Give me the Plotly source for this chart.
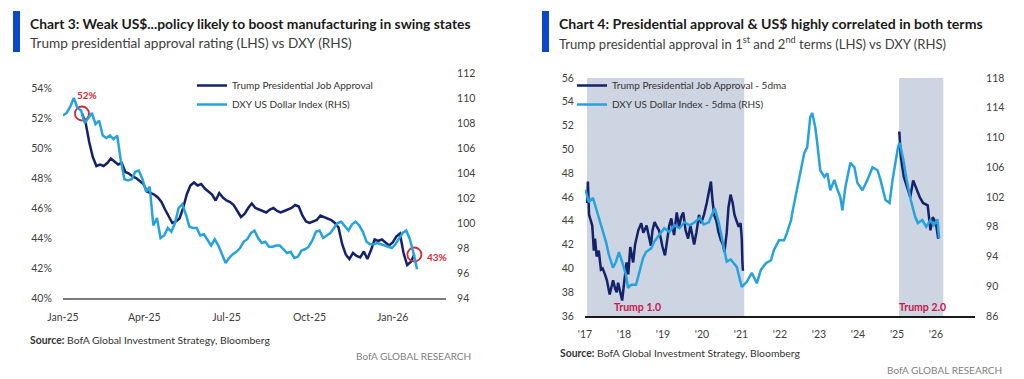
import plotly.graph_objects as go
import pandas as pd

# ---------------- Chart 3 data (2025-26), values read every 4 days ----------------
c3_appr_start = "2025-01-22"
c3_approval = [52.3, 51.7, 50.4, 49.4, 48.8, 48.9, 48.8, 49.0, 49.3, 49.1, 48.9, 49.0, 48.4, 48.3,
               48.1, 48.0, 47.8, 47.6, 47.1, 47.0, 46.9, 46.7, 46.4, 45.9, 45.4, 45.0, 45.1, 45.3,
               46.0, 46.9, 47.5, 47.7, 47.5, 47.6, 47.3, 47.1, 46.9, 46.5, 47.0, 46.7, 46.5, 46.4,
               46.2, 45.8, 45.4, 45.6, 46.0, 46.3, 46.0, 45.9, 45.8, 45.7, 45.9, 46.0, 45.8, 45.7,
               45.8, 45.9, 46.0, 46.2, 46.1, 45.5, 45.1, 45.0, 45.1, 45.2, 45.5, 45.4, 45.3, 45.2,
               45.0, 44.7, 43.6, 42.9, 42.6, 43.0, 42.8, 42.7, 43.1, 42.6, 43.2, 43.9, 43.8, 43.9,
               43.7, 43.5, 43.7, 44.1, 44.3, 43.0, 42.2, 42.4, 42.9]
c3_dxy_start = "2025-01-01"
c3_dxy = [108.6, 108.8, 109.3, 110.0, 109.2, 109.0, 108.0, 108.4, 108.8, 107.9, 108.2, 107.0, 106.8,
          107.0, 106.7, 107.0, 105.0, 103.5, 103.4, 103.5, 104.1, 104.2, 103.5, 102.5, 102.9, 99.8,
          100.4, 98.8, 99.0, 99.6, 99.3, 100.0, 101.2, 101.5, 100.7, 99.7, 99.6, 99.6, 99.0, 99.1,
          98.6, 98.2, 98.7, 98.2, 97.5, 96.8, 97.2, 97.5, 97.7, 98.0, 98.5, 98.7, 99.2, 99.4, 98.8,
          98.4, 98.5, 98.1, 98.1, 98.2, 98.2, 97.9, 97.6, 97.7, 97.2, 97.3, 97.8, 97.9, 98.1, 98.6,
          99.3, 99.4, 98.8, 99.0, 99.2, 99.6, 100.0, 100.1, 99.7, 99.4, 99.9, 100.1, 99.8, 99.3,
          98.5, 98.3, 98.3, 98.4, 98.3, 98.2, 98.1, 98.0, 98.3, 98.7, 99.2, 99.4, 98.7, 97.6, 96.3]
c3_step = "4D"
c3_xticks = ["2025-01-01", "2025-04-01", "2025-07-01", "2025-10-01", "2026-01-01"]
c3_xticklabels = ["Jan-25", "Apr-25", "Jul-25", "Oct-25", "Jan-26"]
c3_left_ticks = [40, 42, 44, 46, 48, 50, 52, 54]
c3_right_ticks = [94, 96, 98, 100, 102, 104, 106, 108, 110, 112]

# ---------------- Chart 4 data (2017-26) ----------------
c4_appr1_dates = ["2017-01-22", "2017-01-28", "2017-02-08", "2017-02-25", "2017-03-10", "2017-03-25",
                  "2017-04-05", "2017-04-20", "2017-05-10", "2017-05-30", "2017-06-15", "2017-07-07",
                  "2017-07-25", "2017-08-20", "2017-09-05", "2017-09-21", "2017-10-10", "2017-10-25",
                  "2017-11-07", "2017-11-25", "2017-12-15", "2018-01-05", "2018-01-25", "2018-02-10",
                  "2018-03-01", "2018-03-28", "2018-04-15", "2018-05-15", "2018-06-12", "2018-07-01",
                  "2018-08-01", "2018-08-15", "2018-09-10", "2018-09-25", "2018-10-15", "2018-11-05",
                  "2018-11-25", "2018-12-10", "2018-12-28", "2019-01-20", "2019-02-10", "2019-03-01",
                  "2019-03-20", "2019-04-15", "2019-05-10", "2019-06-01", "2019-06-20", "2019-07-10",
                  "2019-08-01", "2019-08-25", "2019-09-15", "2019-10-20", "2019-11-10", "2019-12-05",
                  "2019-12-25", "2020-01-20", "2020-02-15", "2020-03-05", "2020-03-25", "2020-04-10",
                  "2020-04-25", "2020-05-15", "2020-06-05", "2020-06-25", "2020-07-15", "2020-07-30",
                  "2020-08-20", "2020-09-05", "2020-09-25", "2020-10-15", "2020-11-01", "2020-11-20",
                  "2020-12-10", "2020-12-28", "2021-01-08", "2021-01-14", "2021-01-19"]
c4_appr1 = [45.5, 47.3, 44.5, 44.0, 43.6, 41.5, 42.5, 41.0, 41.5, 39.9, 40.0, 39.5,
            39.0, 37.8, 38.5, 39.0, 38.3, 38.0, 38.8, 38.0, 37.3, 39.0, 40.5, 39.5,
            41.8, 40.5, 42.0, 43.2, 43.8, 43.0, 43.6, 43.0, 41.9, 43.2, 43.9, 43.5,
            43.2, 42.6, 41.8, 41.1, 42.6, 43.6, 44.2, 42.8, 44.7, 43.5, 44.3, 44.7,
            43.2, 42.5, 43.6, 42.0, 43.0, 44.5, 43.8, 44.5, 45.5, 46.4, 47.3, 45.6,
            44.5, 44.0, 43.0, 42.4, 42.0, 41.4, 43.0, 45.1, 46.2, 45.5, 44.5, 44.0,
            43.5, 43.8, 42.5, 40.5, 39.8]
c4_appr2_dates = ["2025-01-22", "2025-02-05", "2025-03-05", "2025-04-10", "2025-05-05", "2025-06-01",
                  "2025-07-05", "2025-08-01", "2025-09-01", "2025-10-15", "2025-11-10", "2025-12-01",
                  "2025-12-20", "2026-01-05", "2026-01-20", "2026-02-01"]
c4_appr2 = [51.5, 49.4, 47.7, 46.8, 46.0, 47.4, 46.6, 46.0, 45.5, 45.3, 43.2, 44.3,
            44.0, 43.5, 42.6, 42.6]
c4_dxy_dates = ["2017-01-05", "2017-02-06", "2017-03-16", "2017-04-13", "2017-05-11", "2017-06-18",
                "2017-07-16", "2017-08-13", "2017-09-20", "2017-10-18", "2017-11-15", "2017-12-23",
                "2018-01-20", "2018-02-08", "2018-03-08", "2018-04-24", "2018-05-22", "2018-06-29",
                "2018-07-27", "2018-09-13", "2018-10-11", "2018-11-27", "2019-01-13", "2019-03-02",
                "2019-04-18", "2019-06-04", "2019-07-22", "2019-09-07", "2019-10-25", "2019-12-11",
                "2020-01-18", "2020-03-05", "2020-04-02", "2020-04-30", "2020-06-06", "2020-07-23",
                "2020-08-20", "2020-09-27", "2020-11-22", "2021-01-08", "2021-02-24", "2021-04-12",
                "2021-05-29", "2021-07-06", "2021-08-22", "2021-10-09", "2021-11-06", "2021-12-23",
                "2022-02-08", "2022-03-08", "2022-04-15", "2022-04-25", "2022-06-11", "2022-07-09",
                "2022-08-16", "2022-09-13", "2022-10-11", "2022-10-30", "2022-11-27", "2022-12-16",
                "2023-01-13", "2023-02-20", "2023-03-20", "2023-04-17", "2023-05-25", "2023-06-22",
                "2023-07-20", "2023-08-08", "2023-09-05", "2023-10-22", "2023-11-29", "2023-12-27",
                "2024-02-12", "2024-03-30", "2024-05-16", "2024-07-02", "2024-07-30", "2024-09-15",
                "2024-10-23", "2024-11-20", "2024-12-18", "2025-01-10", "2025-01-25", "2025-03-01",
                "2025-04-01", "2025-05-10", "2025-06-20", "2025-07-15", "2025-08-25", "2025-10-01",
                "2025-11-10", "2025-12-10", "2026-01-15", "2026-01-29"]
c4_dxy = [103.0, 101.3, 101.9, 100.5, 99.2, 97.3, 96.0, 94.2, 92.5, 93.3, 94.6, 92.9,
          91.5, 89.8, 90.2, 90.2, 91.9, 93.8, 94.6, 95.1, 96.0, 96.9, 97.8, 97.3,
          98.2, 97.8, 98.6, 98.2, 98.6, 99.2, 98.3, 98.6, 99.6, 100.5, 98.6, 95.1,
          93.3, 93.6, 92.6, 89.9, 90.6, 91.8, 90.4, 92.2, 93.1, 93.5, 94.9, 96.2,
          96.2, 97.2, 98.9, 99.8, 103.3, 105.2, 107.9, 108.7, 112.7, 113.3, 111.4, 109.2,
          105.6, 104.7, 105.2, 102.9, 104.3, 103.0, 102.0, 100.2, 103.3, 106.6, 106.0, 103.9,
          102.9, 104.3, 106.0, 105.6, 104.3, 101.6, 101.2, 104.3, 107.0, 108.7, 109.3, 107.0,
          104.3, 101.6, 99.3, 98.5, 98.9, 98.0, 98.9, 98.2, 99.0, 96.5]
c4_terms = [("2017-01-20", "2021-01-31", "Trump 1.0", "2018-05-10"),
            ("2025-01-20", "2026-03-10", "Trump 2.0", "2025-09-01")]
c4_xticks = [f"{y}-01-01" for y in range(2017, 2027)]
c4_xticklabels = ["'17", "'18", "'19", "'20", "'21", "'22", "'23", "'24", "'25", "'26"]
c4_left_ticks = list(range(36, 57, 2))
c4_right_ticks = list(range(86, 119, 4))

# ---------------- styling ----------------
W, H = 1024, 379
OFF = 8  # the page body adds an 8px margin around the figure
NAVY = "#14226a"
SKY = "#26a3df"
RED = "#d42a36"
SHADE = "#cdd4e2"
BAR = "#0b48c8"
TICK = "#404040"
FONT = "Lato"


def px(x):
    return (x - OFF) / W


def py(y):
    return 1 - (y - OFF) / H


c3_appr_dates = pd.date_range(c3_appr_start, periods=len(c3_approval), freq=c3_step)
c3_dxy_dates = pd.date_range(c3_dxy_start, periods=len(c3_dxy), freq=c3_step)

fig = go.Figure()

# Chart 3
fig.add_trace(go.Scatter(x=c3_appr_dates, y=c3_approval, xaxis="x", yaxis="y", mode="lines",
                         line=dict(color=NAVY, width=2.5), name="Trump Presidential Job Approval",
                         legend="legend"))
fig.add_trace(go.Scatter(x=c3_dxy_dates, y=c3_dxy, xaxis="x", yaxis="y2", mode="lines",
                         line=dict(color=SKY, width=2.5), name="DXY US Dollar Index (RHS)",
                         legend="legend"))
fig.add_trace(go.Scatter(x=[c3_appr_dates[0], c3_appr_dates[-1]], y=[c3_approval[0], c3_approval[-1]],
                         xaxis="x", yaxis="y", mode="markers", showlegend=False,
                         marker=dict(symbol="circle-open", size=14, color=RED, line=dict(width=1.8))))

# Chart 4
fig.add_trace(go.Scatter(x=c4_appr1_dates, y=c4_appr1, xaxis="x2", yaxis="y3", mode="lines",
                         line=dict(color=NAVY, width=2.5), name="Trump Presidential Job Approval - 5dma",
                         legend="legend2", legendgroup="appr"))
fig.add_trace(go.Scatter(x=c4_appr2_dates, y=c4_appr2, xaxis="x2", yaxis="y3", mode="lines",
                         line=dict(color=NAVY, width=2.5), showlegend=False, legendgroup="appr"))
fig.add_trace(go.Scatter(x=c4_dxy_dates, y=c4_dxy, xaxis="x2", yaxis="y4", mode="lines",
                         line=dict(color=SKY, width=2.5), name="DXY US Dollar Index - 5dma (RHS)",
                         legend="legend2"))

tickfont = dict(family=FONT, size=10.5, color=TICK)
common_y = dict(showgrid=False, zeroline=False, showline=False, ticks="outside", ticklen=8,
                tickcolor="rgba(0,0,0,0)", tickfont=tickfont, fixedrange=True, automargin=False)
common_x = dict(type="date", showgrid=False, zeroline=False, showline=True, ticks="outside",
                ticklen=8, tickcolor="rgba(0,0,0,0)", tickfont=tickfont, automargin=False)

fig.update_layout(
    width=W, height=H, margin=dict(l=0, r=0, t=0, b=0, autoexpand=False),
    paper_bgcolor="white", plot_bgcolor="rgba(0,0,0,0)",
    font=dict(family=FONT, color="#333333"),
    xaxis=dict(domain=[px(63), px(446)], anchor="y", range=["2025-01-01", "2026-03-01"],
               tickvals=c3_xticks, ticktext=c3_xticklabels, linecolor="#7a7a7a", linewidth=2,
               **common_x),
    yaxis=dict(domain=[py(298), py(73)], anchor="x", range=[40, 55], tickvals=c3_left_ticks,
               ticktext=[f"{v}%" for v in c3_left_ticks], **common_y),
    yaxis2=dict(overlaying="y", side="right", anchor="x", range=[94, 112], tickvals=c3_right_ticks,
                **common_y),
    xaxis2=dict(domain=[px(585), px(975)], anchor="y3", range=["2017-01-01", "2027-01-01"],
                tickvals=c4_xticks, ticktext=c4_xticklabels, linecolor="#1a1a1a", linewidth=1.5,
                **common_x),
    yaxis3=dict(domain=[py(316), py(78)], anchor="x2", range=[36, 56], tickvals=c4_left_ticks,
                **common_y),
    yaxis4=dict(overlaying="y3", side="right", anchor="x2", range=[86, 118], tickvals=c4_right_ticks,
                **common_y),
    legend=dict(x=px(192), y=py(71), xanchor="left", yanchor="top", bgcolor="rgba(0,0,0,0)",
                font=dict(family=FONT, size=10, color="#333333"), itemwidth=30, tracegroupgap=0),
    legend2=dict(x=px(572), y=py(71), xanchor="left", yanchor="top", bgcolor="rgba(0,0,0,0)",
                 font=dict(family=FONT, size=10, color="#333333"), itemwidth=30, tracegroupgap=0),
)

shapes = []
annotations = []
# Term shading
for start, end, label, label_date in c4_terms:
    shapes.append(dict(type="rect", xref="x2", yref="y3 domain", x0=start, x1=end, y0=0, y1=1,
                       fillcolor=SHADE, line=dict(width=0), layer="below"))
    annotations.append(dict(xref="x2", yref="y3", x=label_date, y=36.75, text=f"<b>{label}</b>",
                            showarrow=False, font=dict(family=FONT, size=10.5, color="#c8174a")))

# Title bars
for x0 in (13, 542):
    shapes.append(dict(type="rect", xref="paper", yref="paper", x0=px(x0), x1=px(x0 + 7),
                       y0=py(52), y1=py(11), fillcolor=BAR, line=dict(width=0)))

# Point labels
annotations.append(dict(xref="x", yref="y", x=c3_appr_dates[0], y=c3_approval[0], text="<b>52%</b>",
                        showarrow=False, xshift=5, yshift=18, font=dict(family=FONT, size=10, color=RED)))
annotations.append(dict(xref="x", yref="y", x=c3_appr_dates[-1], y=c3_approval[-1], text="<b>43%</b>",
                        showarrow=False, xshift=23, yshift=-2, font=dict(family=FONT, size=10, color=RED)))


# Titles / subtitles / sources
def text(x, y, s, size, color, anchor="left", bold=False):
    annotations.append(dict(xref="paper", yref="paper", x=px(x), y=py(y), text=f"<b>{s}</b>" if bold else s,
                            showarrow=False, xanchor=anchor, yanchor="middle",
                            font=dict(family=FONT, size=size, color=color)))


text(28, 23, "Chart 3: Weak US$...policy likely to boost manufacturing in swing states", 13.85, "#1a1a1a", bold=True)
text(28, 43, "Trump presidential approval rating (LHS) vs DXY (RHS)", 13.6, "#404040")
text(557, 23, "Chart 4: Presidential approval &amp; US$ highly correlated in both terms", 14.1, "#1a1a1a", bold=True)
text(557, 43, "Trump presidential approval in 1<sup>st</sup> and 2<sup>nd</sup> terms (LHS) vs DXY (RHS)", 13.1, "#404040")
text(28, 340, "<b>Source:</b> BofA Global Investment Strategy, Bloomberg", 10.4, "#333333")
text(558, 353, "<b>Source:</b> BofA Global Investment Strategy, Bloomberg", 10.4, "#333333")
text(473, 356, "BofA GLOBAL RESEARCH", 10, "#7f7f7f", anchor="right")
text(1004, 370, "BofA GLOBAL RESEARCH", 10, "#7f7f7f", anchor="right")

fig.update_layout(shapes=shapes, annotations=annotations)
fig.write_html("out.html")
